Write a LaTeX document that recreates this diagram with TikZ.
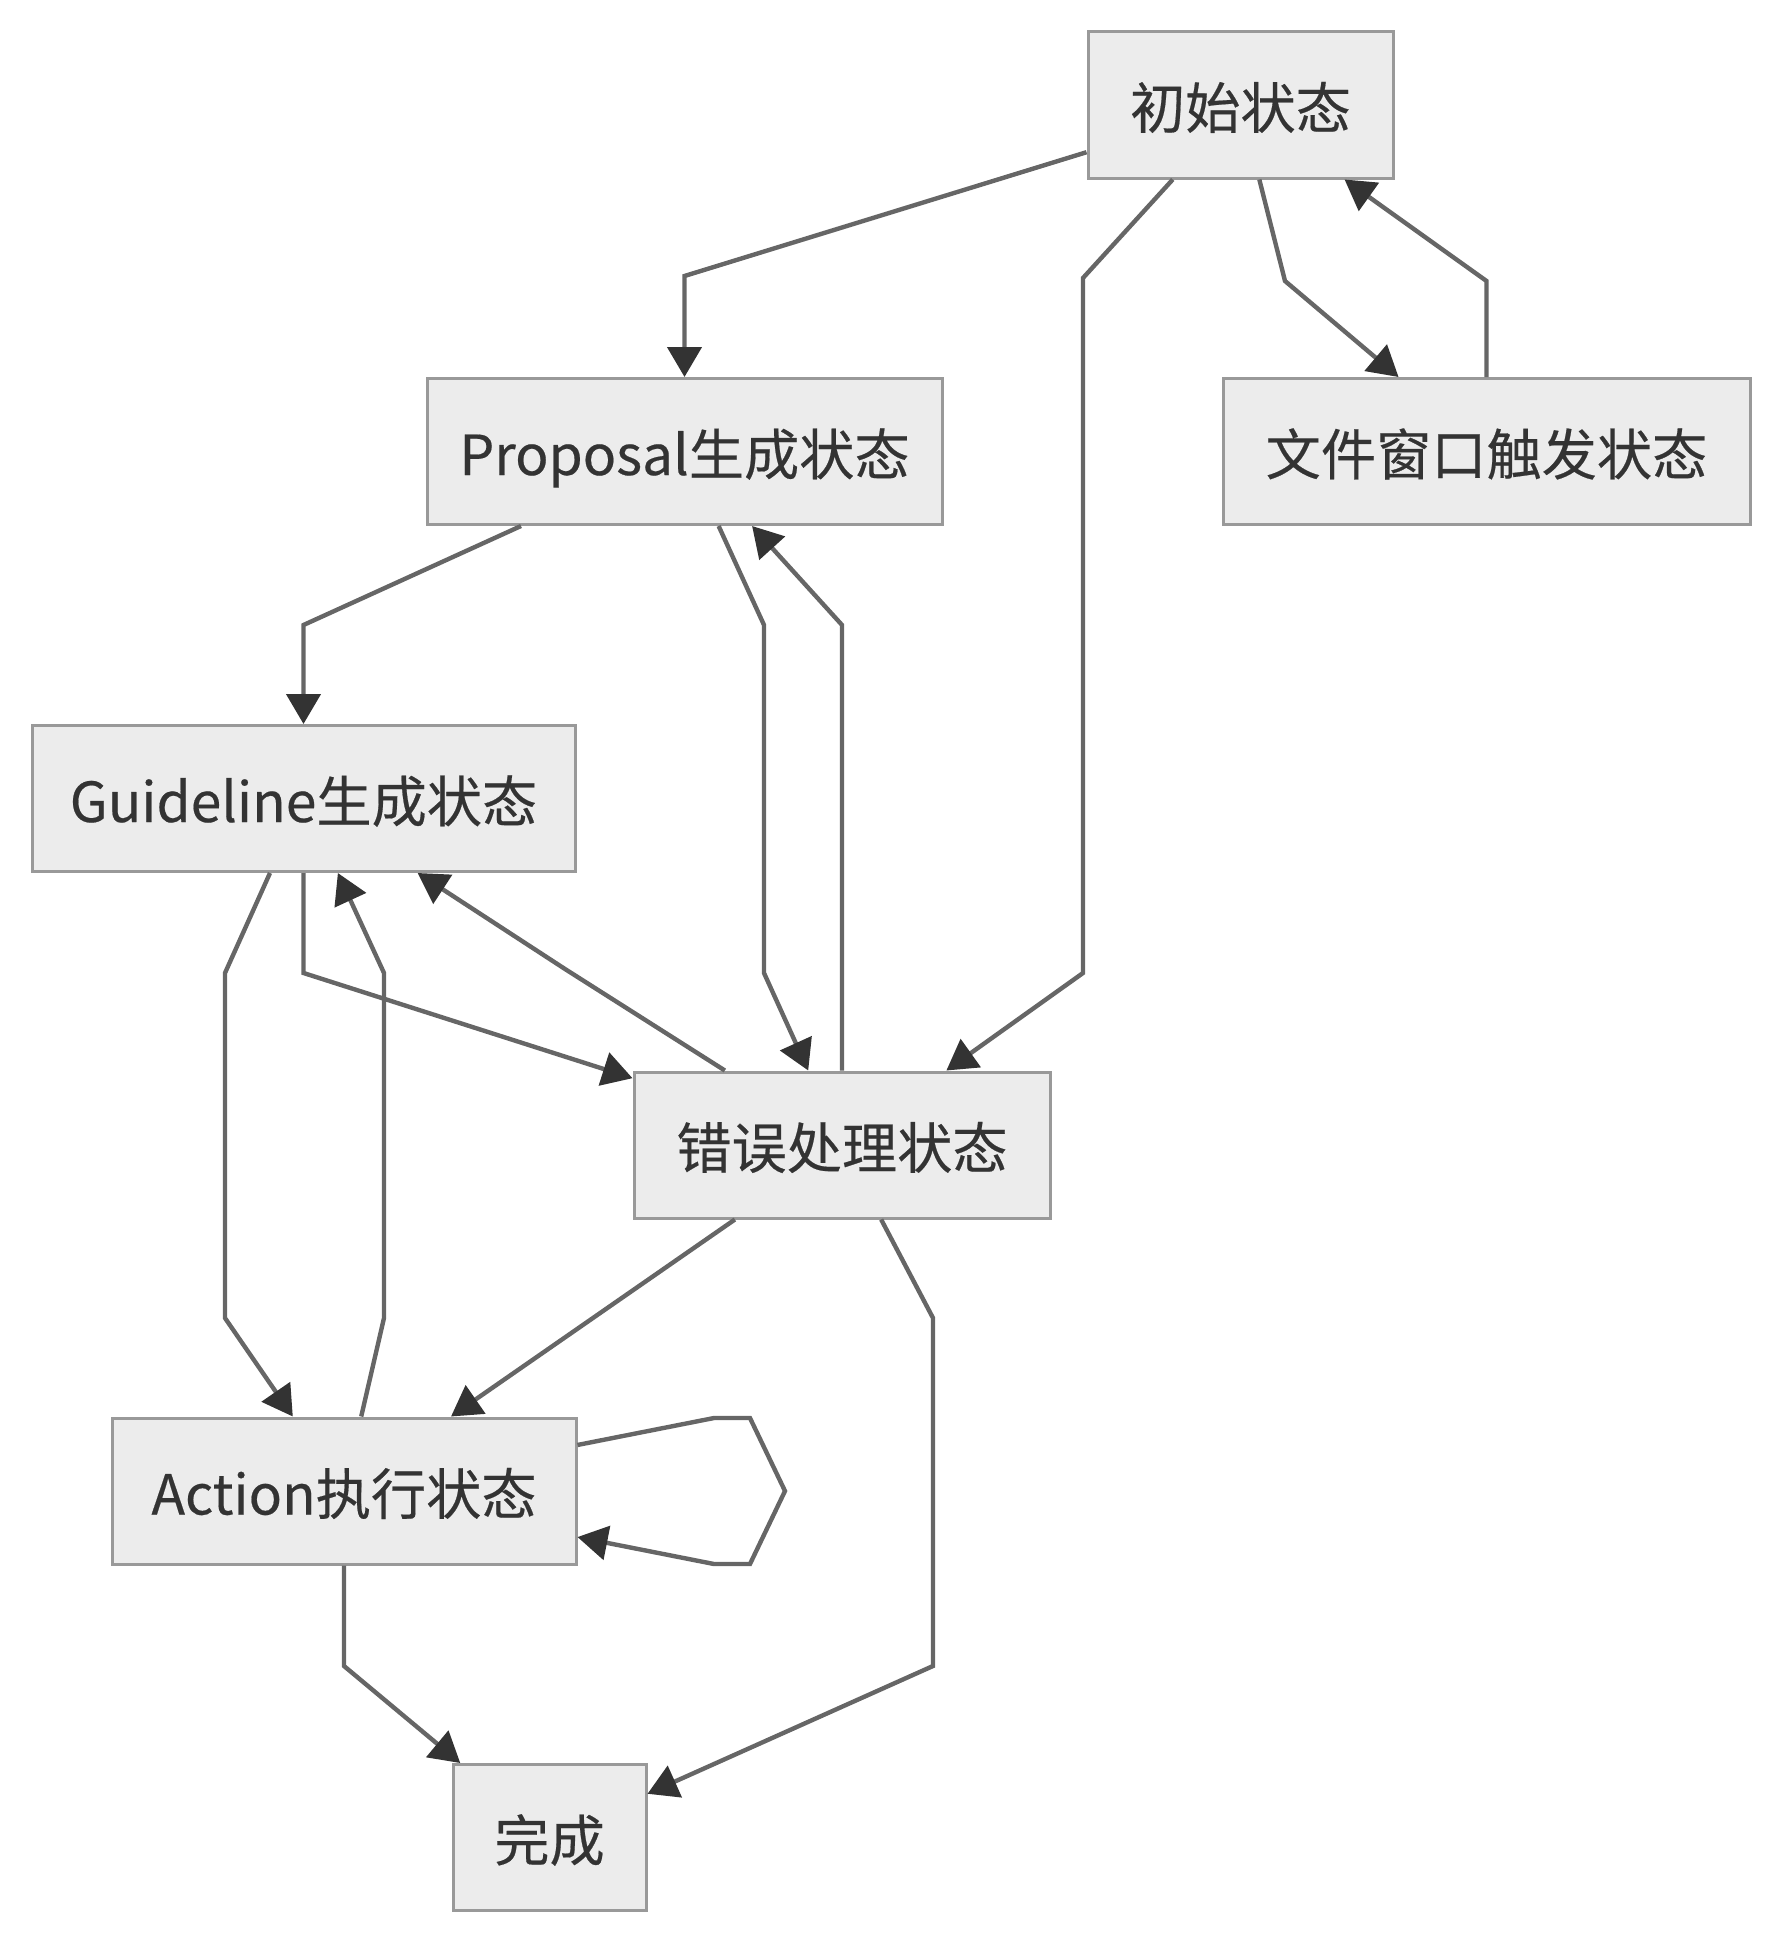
\documentclass[tikz,border=0pt]{standalone}
\usepackage{fontspec}
\setmainfont{Noto Sans CJK SC}[FakeBold=0.35]
\usepackage{xcolor}
\usepackage{tikz}
\usetikzlibrary{arrows.meta}

\definecolor{boxfill}{HTML}{ECECEC}
\definecolor{boxline}{HTML}{999999}
\definecolor{linkline}{HTML}{666666}
\definecolor{tipfill}{HTML}{333333}
\definecolor{labeltext}{HTML}{333333}

\begin{document}
\begin{tikzpicture}[
  x=0.5pt, y=-0.5pt,
  state/.style={rectangle, draw=boxline, fill=boxfill, line width=1.5pt, inner sep=0pt,
    minimum height=73pt, text height=26pt, text depth=2.5pt, text=labeltext,
    font=\fontsize{27.6pt}{33pt}\selectfont},
  link/.style={draw=linkline, line width=2.2pt,
    -{Triangle[length=15pt, width=17pt, color=tipfill]}}
]
\useasboundingbox (0,0) rectangle (1788,1948);

% states
\node[state, minimum width=152.5pt] (init) at (1240.5,105) {初始状态};
\node[state, minimum width=257.5pt] (proposal) at (684.5,451.5) {Proposal生成状态};
\node[state, minimum width=263.5pt] (filewin) at (1486.5,451.5) {文件窗口触发状态};
\node[state, minimum width=271.5pt] (guideline) at (303.5,798.5) {Guideline生成状态};
\node[state, minimum width=208pt] (error) at (842,1145) {错误处理状态};
\node[state, minimum width=232pt] (action) at (344,1491) {Action执行状态};
\node[state, minimum width=96.5pt] (done) at (549.5,1837.5) {完成};

% transitions from the initial state
\draw[link] (init) -- (684.5,276) -- (proposal);
\draw[link] (init) -- (1083,278) -- (1083,973) -- (error);
\draw[link] (init) -- (1285,281) -- (filewin);
\draw[link] (filewin) -- (1486.5,281) -- (init);

% proposal
\draw[link] (proposal) -- (303.5,625) -- (guideline);
\draw[link] (proposal) -- (764,625) -- (764,973) -- (error);
\draw[link] (error) -- (842,625) -- (proposal);

% guideline
\draw[link] (guideline) -- (225,973) -- (225,1318) -- (action);
\draw[link] (action) -- (384,1318) -- (384,973) -- (guideline);
\draw[link] (guideline) -- (303.5,973) -- (error);
\draw[link] (error) -- (565,969) -- (guideline);

% error handling
\draw[link] (error) -- (action);
\draw[link] (error) -- (933,1318) -- (933,1666) -- (done);

% action loop and finish
\draw[link] (action) -- (714,1418) -- (750,1418) -- (785,1491) -- (750,1564) -- (714,1564) -- (action);
\draw[link] (action) -- (344,1666) -- (done);

\end{tikzpicture}
\end{document}
